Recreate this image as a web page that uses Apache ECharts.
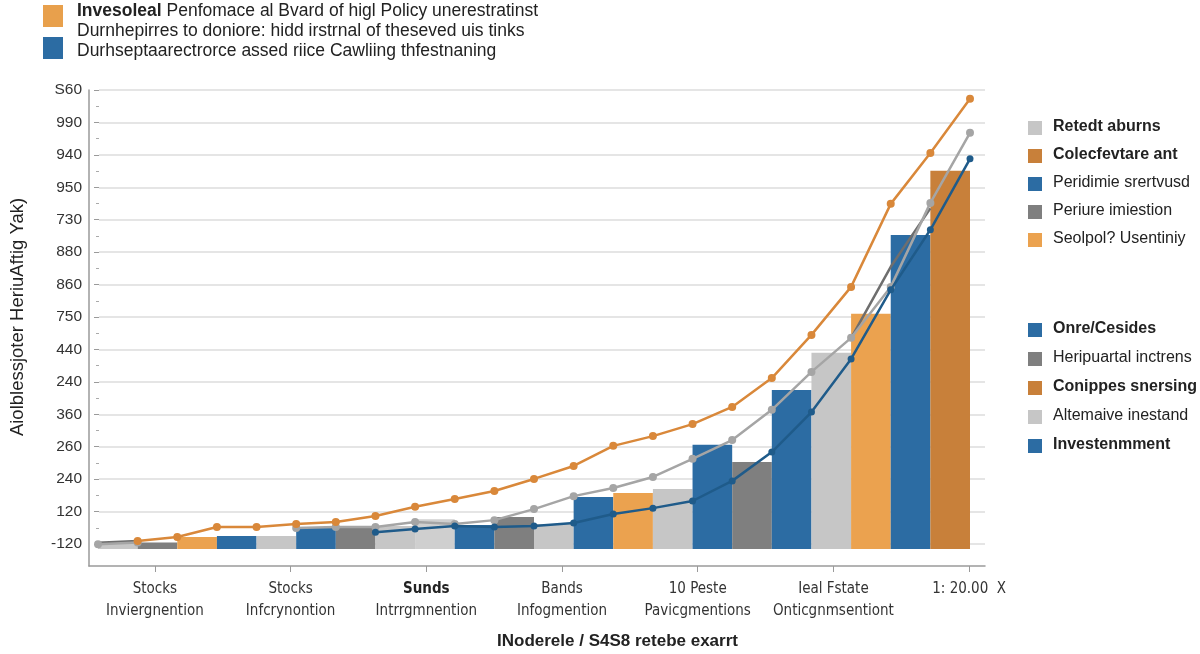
<!DOCTYPE html>
<html>
<head>
<meta charset="utf-8">
<script src="https://cdn.jsdelivr.net/npm/echarts@6/dist/echarts.min.js"></script>
<style>html,body{margin:0;padding:0;background:#fff}#c{width:1200px;height:654px}</style>
</head>
<body>
<div id="c"></div>
<script>
// ---- data ----
const yTickLabels = ['-120','120','240','260','360','240','440','750','860','880','730','950','940','990','S60'];
const xLabelsTop = ['Stocks','Stocks','Sunds','Bands','10 Peste','Ieal Fstate','1: 20.00  X'];
const xLabelsBottom = ['Inviergnention','Infcrynontion','Intrrgmnention','Infogmention','Pavicgmentions','Onticgnmsentiont',''];
const yAxisTitle = 'Aiolblessjoter HeriuAftig Yak)';
const xAxisTitle = 'INoderele / S4S8 retebe exarrt';
const topLegendLines = [
  ['Invesoleal', ' Penfomace al Bvard of higl Policy unerestratinst'],
  ['', 'Durnhepirres to doniore: hidd irstrnal of theseved uis tinks'],
  ['', 'Durhseptaarectrorce assed riice Cawliing thfestnaning']
];
const rightLegendA = ['Retedt aburns','Colecfevtare ant','Peridimie srertvusd','Periure imiestion','Seolpol? Usentiniy'];
const rightLegendAKinds = ['alt','coll','perf','port','sel'];
const rightLegendB = ['Onre/Cesides','Heripuartal inctrens','Conippes snersing','Altemaive inestand','Investenmment'];
const rightLegendBKinds = ['perf','port','coll','alt','perf'];
const rightLegendBoldA = [true,true,false,false,false];
const rightLegendBoldB = [true,false,true,false,true];

// bars (22 slots), values in grid steps above bar base
const barKinds  = ['alt','port','sel','perf','alt','perf','port','alt','alt2','perf','port','alt','perf','sel','alt','perf','port','perf','alt','sel','perf','coll'];
const barValues = [0.2,0.2,0.37,0.4,0.4,0.68,0.65,0.71,0.92,0.74,0.99,0.77,1.6,1.73,1.85,3.21,2.68,4.9,6.05,7.25,9.68,11.66];

// lines on 23 slot boundaries
const orangeLine = [null,0.25,0.37,0.68,0.68,0.77,0.83,1.02,1.30,1.54,1.79,2.16,2.56,3.18,3.48,3.85,4.38,5.27,6.60,8.08,10.64,12.21,13.88];
const grayLine   = [0.15,0.2,null,null,null,0.65,0.68,0.68,0.83,0.77,0.89,1.23,1.63,1.88,2.22,2.78,3.36,4.29,5.46,6.51,8.08,10.67,12.83];
const blueLine   = [null,null,null,null,null,null,null,0.52,0.62,0.71,0.68,0.71,0.80,1.08,1.26,1.48,2.10,2.99,4.22,5.86,7.99,9.84,12.03];
const darkLine   = [0.19,0.25,null,null,null,null,null,null,null,null,null,null,null,null,null,null,null,null,null,6.5,8.7,10.5,null];

// ---- styles ----
const kindColor = {alt:'#c6c6c6', alt2:'#cfcfcf', port:'#7f7f7f', sel:'#eba24f', perf:'#2c6ca3', coll:'#c8803a'};
const FONT = "'Liberation Sans', Arial, sans-serif";
const NARROW = "'Liberation Sans Narrow', 'DejaVu Sans Condensed', 'Liberation Sans', sans-serif";

const chart = echarts.init(document.getElementById('c'), null, {renderer:'canvas'});

const graphics = [];
// top legend
graphics.push({type:'rect', left:43, top:5, shape:{width:20,height:22}, style:{fill:'#e8a04c'}});
graphics.push({type:'rect', left:43, top:37, shape:{width:20,height:22}, style:{fill:'#2c6ca3'}});
const topY = [12, 32, 52];
topLegendLines.forEach((ln, i) => {
  graphics.push({type:'text', left:77, top:topY[i]-10, style:{
    text:(ln[0] ? '{b|' + ln[0] + '}' : '') + '{n|' + ln[1] + '}',
    rich:{b:{fontSize:17.5, fontWeight:'bold', fill:'#222', fontFamily:FONT}, n:{fontSize:17.5, fill:'#222', fontFamily:FONT}}
  }});
});
// right legends
function addRight(labels, kinds, bolds, y0, step) {
  labels.forEach((t, i) => {
    const y = y0 + i*step;
    graphics.push({type:'rect', left:1028, top:y-7, shape:{width:14,height:14}, style:{fill:kindColor[kinds[i]]}});
    graphics.push({type:'text', left:1053, top:y-9, style:{text:t, fontSize:16, fontWeight:bolds[i]?'bold':'normal', fill:'#222', fontFamily:FONT}});
  });
}
addRight(rightLegendA, rightLegendAKinds, rightLegendBoldA, 128, 28);
addRight(rightLegendB, rightLegendBKinds, rightLegendBoldB, 330, 29);
// x axis title
graphics.push({type:'text', left:497, top:633, style:{text:xAxisTitle, fontSize:17, fontWeight:'bold', fill:'#222', fontFamily:FONT}});

const option = {
  animation:false,
  textStyle:{fontFamily:FONT},
  grid:[
    {left:89, right:215, top:90, bottom:110},
    {left:98, right:230, top:90, bottom:105},
    {left:89, right:215, top:90, bottom:88},
    {left:87, right:163, top:90, bottom:88}
  ],
  xAxis:[
    {gridIndex:0, type:'value', min:0, max:1, show:false},
    {gridIndex:1, type:'category', data:barValues.map((_, i) => 's' + i), show:false},
    {gridIndex:1, type:'category', boundaryGap:false, data:orangeLine.map((_, i) => 'b' + i), show:false},
    {gridIndex:2, type:'value', min:0, max:1, axisLine:{show:true, onZero:false, lineStyle:{color:'#9a9a9a', width:1.5}}, axisTick:{show:false}, axisLabel:{show:false}, splitLine:{show:false}},
    {gridIndex:3, type:'category', data:xLabelsTop,
      axisLine:{show:false},
      axisTick:{show:true, alignWithLabel:true, length:6, lineStyle:{color:'#9a9a9a'}},
      axisLabel:{interval:0, margin:12, lineHeight:22, fontSize:15, color:'#333', fontFamily:NARROW,
        formatter:(v, i) => (v === 'Sunds' ? '{b|' + v + '}' : '{a|' + v + '}') + (xLabelsBottom[i] ? '\n{a|' + xLabelsBottom[i] + '}' : ''),
        rich:{a:{fontSize:15, color:'#333', fontFamily:NARROW, lineHeight:22}, b:{fontSize:15, fontWeight:'bold', color:'#222', fontFamily:NARROW, lineHeight:22}}
      },
      splitLine:{show:false}}
  ],
  yAxis:[
    {gridIndex:0, type:'value', min:0, max:14, interval:1,
      name:yAxisTitle, nameLocation:'middle', nameGap:72, nameTextStyle:{fontSize:18.5, color:'#222', fontFamily:FONT},
      axisLine:{show:false, onZero:false},
      axisTick:{show:true, length:5, lineStyle:{color:'#9a9a9a'}},
      minorTick:{show:true, splitNumber:2, length:3, lineStyle:{color:'#aaa'}},
      axisLabel:{fontSize:15.5, color:'#333', margin:17, formatter:(v) => yTickLabels[Math.round(v)]},
      splitLine:{show:true, lineStyle:{color:'#dcdcdc', width:1.5}}},
    {gridIndex:1, type:'value', min:0, max:14.15, show:false},
    {gridIndex:2, type:'value', min:0, max:1, axisLine:{show:true, onZero:false, lineStyle:{color:'#9a9a9a', width:1.5}}, axisTick:{show:false}, axisLabel:{show:false}, splitLine:{show:false}},
    {gridIndex:3, type:'value', show:false}
  ],
  graphic: graphics,
  series:[
    {type:'bar', xAxisIndex:1, yAxisIndex:1, barCategoryGap:'0%',
      data: barValues.map((v, i) => ({value:v, itemStyle:{color:kindColor[barKinds[i]]}}))},
    {type:'line', xAxisIndex:2, yAxisIndex:1, data:darkLine, symbol:'none', lineStyle:{color:'#6e6e6e', width:2.5}, z:3},
    {type:'line', xAxisIndex:2, yAxisIndex:1, data:grayLine, symbol:'circle', symbolSize:8, itemStyle:{color:'#a5a5a5'}, lineStyle:{color:'#a5a5a5', width:2.5}, z:4},
    {type:'line', xAxisIndex:2, yAxisIndex:1, data:blueLine, symbol:'circle', symbolSize:7, itemStyle:{color:'#1f5b8a'}, lineStyle:{color:'#1f5b8a', width:2.5}, z:5},
    {type:'line', xAxisIndex:2, yAxisIndex:1, data:orangeLine, symbol:'circle', symbolSize:8, itemStyle:{color:'#d9883a'}, lineStyle:{color:'#d9883a', width:2.5}, z:6}
  ]
};
chart.setOption(option);
</script>
</body>
</html>
